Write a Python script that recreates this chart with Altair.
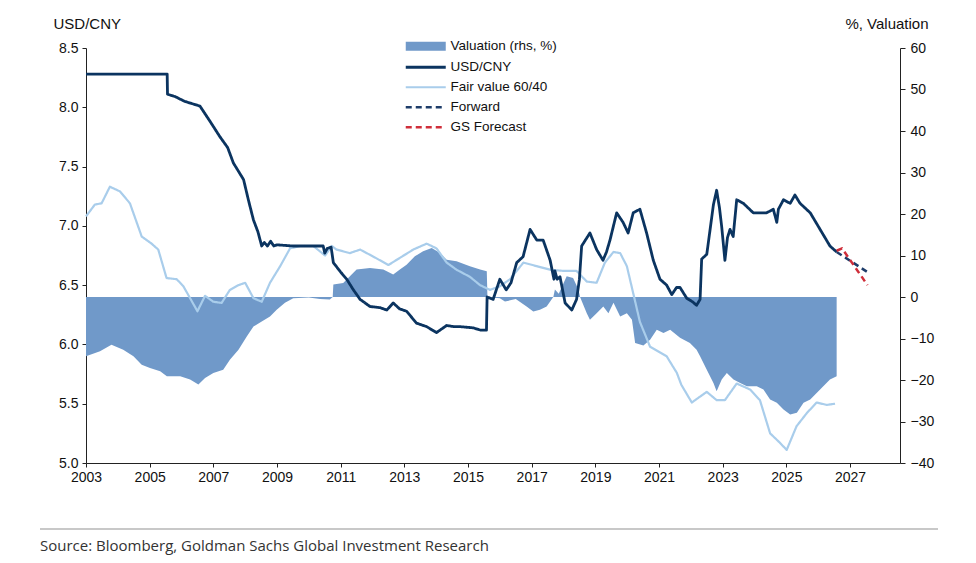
import altair as alt
import pandas as pd

# ---------------- data ----------------
usd_x = [2003.0, 2005.55, 2005.56, 2005.8, 2006.1, 2006.58, 2006.9, 2007.21, 2007.45, 2007.63,
         2007.95, 2008.1, 2008.26, 2008.4, 2008.52, 2008.6, 2008.7, 2008.8, 2008.9, 2009.0,
         2009.5, 2010.0, 2010.45, 2010.5, 2010.58, 2010.7, 2010.77, 2011.0, 2011.19, 2011.4,
         2011.61, 2011.92, 2012.24, 2012.45, 2012.65, 2012.85, 2013.07, 2013.38, 2013.70, 2014.01,
         2014.33, 2014.55, 2014.75, 2015.16, 2015.4, 2015.58, 2015.6, 2015.79, 2016.0, 2016.2,
         2016.35, 2016.53, 2016.73, 2016.95, 2017.16, 2017.36, 2017.58, 2017.7, 2017.73, 2017.8,
         2017.89, 2018.05, 2018.26, 2018.41, 2018.5, 2018.57, 2018.83, 2019.04, 2019.24, 2019.35,
         2019.46, 2019.67, 2019.87, 2020.03, 2020.19, 2020.40, 2020.61, 2020.82, 2021.03, 2021.24,
         2021.40, 2021.55, 2021.66, 2021.87, 2022.05, 2022.18, 2022.29, 2022.34, 2022.5, 2022.71,
         2022.81, 2022.9, 2022.97, 2023.07, 2023.15, 2023.23, 2023.33, 2023.44, 2023.65, 2023.96,
         2024.38, 2024.59, 2024.70, 2024.75, 2024.91, 2025.12, 2025.27, 2025.43, 2025.75, 2026.06,
         2026.37, 2026.58]
usd_y = [8.28, 8.28, 8.11, 8.09, 8.05, 8.01, 7.88, 7.75, 7.66, 7.53,
         7.39, 7.22, 7.05, 6.95, 6.83, 6.86, 6.83, 6.87, 6.83, 6.84,
         6.83, 6.83, 6.83, 6.77, 6.81, 6.82, 6.69, 6.61, 6.55, 6.46,
         6.38, 6.32, 6.31, 6.29, 6.35, 6.30, 6.28, 6.18, 6.15, 6.10,
         6.16, 6.15, 6.15, 6.14, 6.12, 6.12, 6.40, 6.38, 6.55, 6.46,
         6.52, 6.69, 6.74, 6.97, 6.88, 6.88, 6.71, 6.55, 6.62, 6.55,
         6.57, 6.35, 6.29, 6.38, 6.55, 6.83, 6.94, 6.80, 6.71, 6.78,
         6.88, 7.11, 7.03, 6.94, 7.11, 7.14, 6.94, 6.71, 6.55, 6.50,
         6.42, 6.48, 6.48, 6.39, 6.36, 6.33, 6.38, 6.72, 6.76, 7.18,
         7.30, 7.15, 6.99, 6.71, 6.90, 6.97, 6.91, 7.22, 7.19, 7.11,
         7.11, 7.14, 7.03, 7.14, 7.22, 7.19, 7.26, 7.19, 7.11, 6.97,
         6.83, 6.78]

fv_x = [2003.0, 2003.28, 2003.49, 2003.75, 2004.07, 2004.38, 2004.75, 2005.06, 2005.27, 2005.53,
        2005.85, 2006.06, 2006.27, 2006.50, 2006.74, 2007.0, 2007.26, 2007.52, 2007.79, 2008.0,
        2008.26, 2008.52, 2008.78, 2009.1, 2009.41, 2009.72, 2010.14, 2010.51, 2010.72, 2010.87,
        2011.29, 2011.61, 2012.03, 2012.50, 2012.86, 2013.28, 2013.70, 2014.01, 2014.33, 2014.64,
        2015.06, 2015.38, 2015.69, 2016.0, 2016.32, 2016.74, 2017.16, 2017.58, 2018.0, 2018.41,
        2018.73, 2019.04, 2019.30, 2019.57, 2019.78, 2019.99, 2020.20, 2020.40, 2020.72, 2021.24,
        2021.56, 2021.70, 2022.03, 2022.29, 2022.50, 2022.81, 2023.07, 2023.44, 2023.86, 2024.17,
        2024.49, 2024.80, 2025.01, 2025.32, 2025.64, 2025.95, 2026.27, 2026.53]
fv_y = [7.08, 7.18, 7.19, 7.33, 7.29, 7.19, 6.91, 6.85, 6.80, 6.56,
        6.55, 6.49, 6.39, 6.28, 6.41, 6.36, 6.35, 6.46, 6.50, 6.52,
        6.39, 6.36, 6.52, 6.66, 6.81, 6.83, 6.83, 6.75, 6.83, 6.80,
        6.77, 6.80, 6.74, 6.67, 6.73, 6.80, 6.85, 6.81, 6.69, 6.63,
        6.57, 6.50, 6.46, 6.49, 6.55, 6.69, 6.66, 6.63, 6.62, 6.62,
        6.53, 6.52, 6.69, 6.78, 6.77, 6.66, 6.42, 6.19, 5.98, 5.90,
        5.76, 5.66, 5.51, 5.56, 5.60, 5.53, 5.53, 5.67, 5.62, 5.53,
        5.25, 5.17, 5.11, 5.31, 5.42, 5.51, 5.49, 5.50]

fwd_x = [2026.58, 2027.55]
fwd_y = [6.78, 6.61]

gs_x = [2026.58, 2026.75, 2027.55]
gs_y = [6.79, 6.81, 6.50]

val_x = [2003.0, 2003.44, 2003.80, 2004.17, 2004.49, 2004.75, 2005.01, 2005.33, 2005.54, 2005.96,
         2006.27, 2006.53, 2006.74, 2007.0, 2007.31, 2007.52, 2007.79, 2008.05, 2008.26, 2008.52,
         2008.78, 2008.99, 2009.25, 2009.51, 2010.0, 2010.35, 2010.66, 2010.75, 2010.77, 2011.08,
         2011.5, 2011.92, 2012.34, 2012.65, 2012.86, 2013.07, 2013.33, 2013.59, 2013.86, 2014.12,
         2014.33, 2014.64, 2015.06, 2015.38, 2015.59, 2015.61, 2016.0, 2016.16, 2016.5, 2016.84,
         2017.05, 2017.26, 2017.47, 2017.68, 2017.73, 2017.85, 2018.1, 2018.3, 2018.47, 2018.52,
         2018.73, 2018.83, 2019.04, 2019.25, 2019.41, 2019.57, 2019.78, 2019.99, 2020.15, 2020.25,
         2020.51, 2020.72, 2020.93, 2021.14, 2021.35, 2021.66, 2021.97, 2022.18, 2022.29, 2022.50,
         2022.71, 2022.81, 2022.97, 2023.13, 2023.34, 2023.55, 2023.76, 2024.07, 2024.28, 2024.49,
         2024.70, 2024.91, 2025.12, 2025.33, 2025.54, 2025.75, 2026.06, 2026.37, 2026.58]
val_y = [-14.3, -13.1, -11.5, -12.7, -14.3, -16.3, -17.1, -17.9, -19.1, -19.1,
         -19.9, -21.1, -19.5, -18.3, -17.5, -15.1, -12.7, -9.5, -7.1, -5.9,
         -4.7, -3.1, -1.4, -0.3, -0.1, -0.5, -0.6, 0.0, 3.0, 3.4,
         6.6, 7.0, 6.6, 5.4, 6.6, 7.8, 9.8, 11.0, 11.8, 10.6,
         9.0, 8.6, 7.4, 6.6, 6.2, 0.0, -0.3, -1.1, -0.5, -2.3,
         -3.5, -3.1, -2.3, 0.0, 1.8, 0.8, 5.0, 4.6, 1.8, 0.0,
         -3.9, -5.5, -3.9, -2.3, -3.9, -1.4, -4.7, -3.9, -5.5, -11.1,
         -11.7, -10.3, -7.9, -8.7, -7.9, -9.8, -11.1, -12.7, -14.3, -17.5,
         -20.7, -22.7, -19.9, -18.3, -19.9, -20.7, -21.5, -21.5, -22.3, -24.7,
         -25.5, -27.1, -28.3, -27.9, -25.5, -24.7, -22.3, -19.9, -19.1]

year_ticks = list(range(2003, 2028, 2))
left_ticks = [5.0, 5.5, 6.0, 6.5, 7.0, 7.5, 8.0, 8.5]
right_ticks = list(range(-40, 61, 10))

val_name = "Valuation (rhs, %)"
val_color = "#7099c9"
line_names = ["USD/CNY", "Fair value 60/40", "Forward", "GS Forecast"]
line_colors = ["#0b3460", "#a9cdeb", "#1d3c69", "#cf2e3a"]
line_dash = [[1, 0], [1, 0], [6, 4], [6, 4]]
line_width = [2.8, 2.2, 2.5, 2.5]

source_text = ["Source: Bloomberg, Goldman Sachs Global Investment Research"]

# ---------------- tables ----------------
rows = []
for name, xs, ys in [("Fair value 60/40", fv_x, fv_y), ("USD/CNY", usd_x, usd_y),
                     ("Forward", fwd_x, fwd_y), ("GS Forecast", gs_x, gs_y)]:
    for i, (a, b) in enumerate(zip(xs, ys)):
        rows.append({"series": name, "year": a, "value": b, "ord": i})
lines_df = pd.DataFrame(rows)
val_df = pd.DataFrame({"year": val_x, "val": val_y, "base": [0.0] * len(val_x),
                       "lab": [val_name] * len(val_x)})
src_df = pd.DataFrame({"t": source_text})

FONT = "Liberation Sans"

xscale = alt.Scale(domain=[2003, 2028.57], nice=False, zero=False)
xaxis = alt.Axis(values=year_ticks, format="d", title=None, grid=False, tickSize=4,
                 labelPadding=3, labelFlush=False)

area_legend = alt.Legend(title=None, orient="none", legendX=333, legendY=-8.5,
                         symbolType="M-20,-4.5L20,-4.5L20,4.5L-20,4.5Z", symbolSize=4,
                         symbolStrokeWidth=0, labelFontSize=13.5, labelFont=FONT,
                         labelColor="#111", padding=0, labelOffset=18)
line_legend = alt.Legend(title=None, orient="none", legendX=333, legendY=12.5,
                         symbolType="M-20,0L20,0", symbolSize=4, symbolStrokeWidth=2.5,
                         labelFontSize=13.5, labelFont=FONT, labelColor="#111",
                         rowPadding=5, padding=0, labelOffset=18)

area = alt.Chart(val_df).mark_area(opacity=1).encode(
    x=alt.X("year:Q", scale=xscale, axis=xaxis),
    y=alt.Y("val:Q", scale=alt.Scale(domain=[-40, 60], nice=False, zero=False),
            axis=alt.Axis(orient="right", values=right_ticks, title="%, Valuation",
                          titleAngle=0, titleAlign="right", titleBaseline="middle",
                          titleX=28, titleY=-25, grid=False, tickSize=5, labelPadding=5)),
    y2="base:Q",
    color=alt.Color("lab:N", scale=alt.Scale(domain=[val_name], range=[val_color]),
                    legend=area_legend),
)

lines = alt.Chart(lines_df).mark_line(strokeJoin="round").encode(
    x=alt.X("year:Q", scale=xscale, axis=xaxis),
    y=alt.Y("value:Q", scale=alt.Scale(domain=[5, 8.5], nice=False, zero=False),
            axis=alt.Axis(orient="left", values=left_ticks, format=".1f", title="USD/CNY",
                          titleAngle=0, titleAlign="left", titleBaseline="middle",
                          titleX=-33, titleY=-25, grid=False, tickSize=4, labelPadding=4)),
    color=alt.Color("series:N", scale=alt.Scale(domain=line_names, range=line_colors),
                    legend=line_legend),
    strokeDash=alt.StrokeDash("series:N", scale=alt.Scale(domain=line_names, range=line_dash),
                              legend=line_legend),
    strokeWidth=alt.StrokeWidth("series:N",
                                scale=alt.Scale(type="ordinal", domain=line_names, range=line_width),
                                legend=None),
    order="ord:Q",
)

rule = alt.Chart(src_df).mark_rule(color="#c8c8c8", strokeWidth=2).encode(
    x=alt.value(-46), x2=alt.value(852), y=alt.value(481)
)
src = alt.Chart(src_df).mark_text(align="left", baseline="middle", font="Open Sans",
                                  fontSize=15, color="#333").encode(
    text="t:N", x=alt.value(-46), y=alt.value(498)
)

chart = alt.layer(area, lines, rule, src).resolve_scale(
    y="independent", color="independent", strokeDash="independent", strokeWidth="independent"
).properties(
    width=814, height=415,
    padding={"left": 78, "top": 40, "right": 68, "bottom": 92},
    autosize=alt.AutoSizeParams(type="none"),
    background="white",
).configure_axis(
    labelFont=FONT, labelFontSize=14, labelColor="#111",
    titleFont=FONT, titleFontSize=15, titleFontWeight="normal", titleColor="#111",
    domainColor="#222", tickColor="#222", domainWidth=1, tickWidth=1,
).configure_view(stroke=None)

chart.save("out.html", embed_options={"renderer": "svg", "actions": False})
